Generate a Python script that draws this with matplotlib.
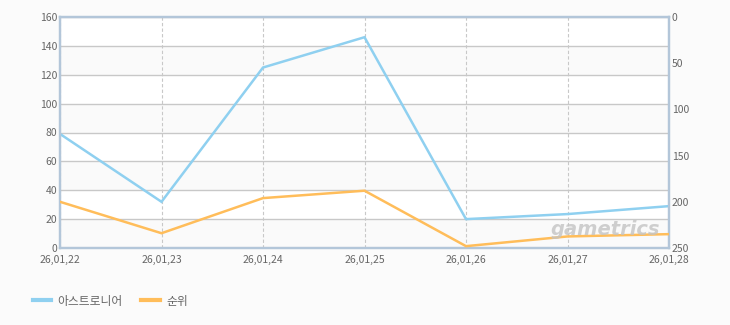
import matplotlib
matplotlib.use("Agg")
import matplotlib.pyplot as plt
from matplotlib.lines import Line2D

plt.rcParams['font.family'] = ['Noto Sans CJK KR', 'DejaVu Sans']

dates = ["26,01,22", "26,01,23", "26,01,24", "26,01,25", "26,01,26", "26,01,27", "26,01,28"]
viewers = [79, 32, 125, 146, 20, 23.5, 29]
rank = [200, 234, 196, 188, 248, 237.5, 235]
left_ticks = [0, 20, 40, 60, 80, 100, 120, 140, 160]
right_ticks = [0, 50, 100, 150, 200, 250]

blue = "#8fd0f0"
orange = "#ffbd5a"
spine_c = "#b3c6d9"
grid_c = "#c8c8c8"
text_c = "#666666"

fig = plt.figure(figsize=(7.3, 3.25), dpi=100, facecolor="#fbfbfb")
ax = fig.add_axes([60/730, 1-248/325, (669-60)/730, (248-17)/325])
ax.set_facecolor("white")
x = list(range(len(dates)))

# alternating bands
for i in range(len(left_ticks)-1):
    if i % 2 == 0:
        ax.axhspan(left_ticks[i], left_ticks[i+1], color="#fafafa", zorder=0, lw=0)

ax.set_xlim(0, len(dates)-1)
ax.set_ylim(0, 160)
ax.set_yticks(left_ticks)
ax.set_xticks(x)
ax.set_xticklabels(dates)
ax.yaxis.grid(True, color=grid_c, lw=1, zorder=1)
ax.xaxis.grid(True, color=grid_c, lw=0.8, ls=(0, (3, 2)), zorder=1)
ax.set_axisbelow(True)
ax.tick_params(axis='y', length=0, labelsize=7.5, labelcolor=text_c, pad=2)
ax.tick_params(axis='x', length=0, labelsize=7.5, labelcolor=text_c, pad=5)
for s in ax.spines.values():
    s.set_color(spine_c)
    s.set_linewidth(1.6)

ax2 = ax.twinx()
ax2.set_ylim(250, 0)
ax2.set_yticks(right_ticks)
ax2.tick_params(axis='y', length=0, labelsize=7.5, labelcolor=text_c, pad=2)
for s in ax2.spines.values():
    s.set_color(spine_c)
    s.set_linewidth(1.6)

ax.plot(x, viewers, color=blue, lw=1.8, zorder=3, solid_joinstyle='miter')
ax2.plot(x, rank, color=orange, lw=1.8, zorder=3, solid_joinstyle='miter')

fig.text(551/730, 1-235/325, "gametrics", fontsize=14, fontweight='bold', fontstyle='italic',
         color="#c4c4c4", alpha=0.8, family=['DejaVu Sans'], va='baseline', zorder=10)

handles = [Line2D([], [], color=blue, lw=3), Line2D([], [], color=orange, lw=3)]
fig.legend(handles, ["아스트로니어", "순위"], loc='center left', bbox_to_anchor=(0.03, 1-301/325),
           ncol=2, frameon=False, handlelength=1.6, fontsize=8.5, labelcolor=text_c,
           columnspacing=1.6, handletextpad=0.5)

fig.savefig("out.png", dpi=100, facecolor=fig.get_facecolor())
